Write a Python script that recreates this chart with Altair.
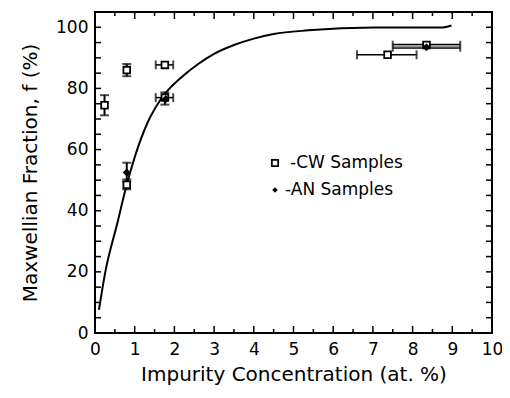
import altair as alt
import pandas as pd

# fitted curve
curve_x = [0.1, 0.26, 0.57, 0.76, 1.0, 1.32, 1.65, 2.2, 2.6, 3.0, 3.5, 4.0, 4.5, 5.37, 7.04, 8.71, 8.98]
curve_y = [7.6, 20.0, 36.3, 46.5, 57.5, 68.7, 76.3, 83.9, 88.0, 91.3, 94.2, 96.3, 97.8, 99.0, 99.9, 99.9, 100.6]

# samples
cw_x = [0.24, 0.8, 0.8, 1.76, 1.76, 7.37, 8.35]
cw_y = [74.5, 86.0, 48.5, 87.7, 77.0, 91.0, 94.2]
an_x = [0.8, 1.78, 8.35]
an_y = [52.5, 76.5, 93.5]

# vertical error bars: x, low, high
yerr_x = [0.24, 0.8, 0.8, 0.8, 1.76]
yerr_lo = [71.2, 84.0, 49.5, 47.0, 74.7]
yerr_hi = [77.8, 88.0, 55.7, 50.2, 78.7]

# horizontal error bars: y, low, high
xerr_y = [87.7, 77.0, 91.0]
xerr_lo = [1.53, 1.53, 6.6]
xerr_hi = [1.97, 1.97, 8.1]
# shaded horizontal bar (overlapping samples)
sh_y = [93.8]
sh_lo = [7.5]
sh_hi = [9.2]

legend_labels = ["-CW Samples", "-AN Samples"]

x_label_values = list(range(0, 11))
y_label_values = [0, 20, 40, 60, 80, 100]
x_ticks_major = list(range(0, 11))
x_ticks_minor = [i + 0.5 for i in range(0, 10)]
y_ticks = list(range(5, 105, 5))

W, H = 397, 321
FONT = "DejaVu Sans"

xs = alt.Scale(domain=[0, 10], nice=False, zero=False)
ys = alt.Scale(domain=[0, 105], nice=False, zero=False)

X_AX = alt.Axis(title="Impurity Concentration (at. %)", values=x_label_values,
                ticks=False, domain=False, grid=False, labelPadding=8,
                labelOverlap=False, labelFlush=False,
                labelFontSize=17, titleFontSize=20, titlePadding=7,
                labelFont=FONT, titleFont=FONT, labelColor="black",
                titleColor="black", titleFontWeight="normal")
Y_AX = alt.Axis(title="Maxwellian Fraction, f (%)", values=y_label_values,
                ticks=False, domain=False, grid=False, labelPadding=7,
                labelOverlap=False, labelFlush=False,
                labelFontSize=17, titleFontSize=20, titlePadding=15,
                labelFont=FONT, titleFont=FONT, labelColor="black",
                titleColor="black", titleFontWeight="normal")


def X(f):
    return alt.X(f, type="quantitative", scale=xs, axis=X_AX, title="Impurity Concentration (at. %)")


def Y(f):
    return alt.Y(f, type="quantitative", scale=ys, axis=Y_AX, title="Maxwellian Fraction, f (%)")


curve_df = pd.DataFrame({"x": curve_x, "y": curve_y})
curve = alt.Chart(curve_df).mark_line(color="black", strokeWidth=2, interpolate="monotone").encode(
    x=X("x"), y=Y("y"))

pts_df = pd.DataFrame({
    "x": cw_x + an_x,
    "y": cw_y + an_y,
    "s": [legend_labels[0]] * len(cw_x) + [legend_labels[1]] * len(an_x),
})

yerr_df = pd.DataFrame({"x": yerr_x, "lo": yerr_lo, "hi": yerr_hi})
xerr_df = pd.DataFrame({"y": xerr_y, "lo": xerr_lo, "hi": xerr_hi})
sh_df = pd.DataFrame({"y": sh_y, "lo": sh_lo, "hi": sh_hi})

yerr_rule = alt.Chart(yerr_df).mark_rule(color="black", strokeWidth=2).encode(
    x=X("x"), y=Y("lo"), y2="hi:Q")
yerr_cap_lo = alt.Chart(yerr_df).mark_tick(color="black", orient="horizontal", size=9, thickness=2).encode(
    x=X("x"), y=Y("lo"))
yerr_cap_hi = alt.Chart(yerr_df).mark_tick(color="black", orient="horizontal", size=9, thickness=2).encode(
    x=X("x"), y=Y("hi"))

xerr_rule = alt.Chart(xerr_df).mark_rule(color="black", strokeWidth=1.5).encode(
    y=Y("y"), x=X("lo"), x2="hi:Q")
xerr_cap_lo = alt.Chart(xerr_df).mark_tick(color="black", orient="vertical", size=9, thickness=2).encode(
    y=Y("y"), x=X("lo"))
xerr_cap_hi = alt.Chart(xerr_df).mark_tick(color="black", orient="vertical", size=9, thickness=2).encode(
    y=Y("y"), x=X("hi"))

sh_outer = alt.Chart(sh_df).mark_rule(color="black", strokeWidth=5).encode(
    y=Y("y"), x=X("lo"), x2="hi:Q")
sh_inner = alt.Chart(sh_df).mark_rule(color="#9a9a9a", strokeWidth=2.5).encode(
    y=Y("y"), x=X("lo"), x2="hi:Q")
sh_cap_lo = alt.Chart(sh_df).mark_tick(color="black", orient="vertical", size=11, thickness=2).encode(
    y=Y("y"), x=X("lo"))
sh_cap_hi = alt.Chart(sh_df).mark_tick(color="black", orient="vertical", size=11, thickness=2).encode(
    y=Y("y"), x=X("hi"))

shape_scale = alt.Scale(domain=legend_labels, range=["square", "diamond"])
fill_scale = alt.Scale(domain=legend_labels, range=["white", "black"])
size_scale = alt.Scale(domain=legend_labels, range=[45, 30])

points = alt.Chart(pts_df).mark_point(filled=False, strokeWidth=1.8, opacity=1).encode(
    x=X("x"),
    y=Y("y"),
    shape=alt.Shape("s:N", scale=shape_scale, legend=None),
    fill=alt.Fill("s:N", scale=fill_scale, legend=None),
    size=alt.Size("s:N", scale=size_scale, legend=None),
    stroke=alt.value("black"),
)

# manual legend
leg_df = pd.DataFrame({"s": legend_labels})
leg_sym_cw = alt.Chart(leg_df).transform_filter(alt.datum.s == legend_labels[0]).mark_point(
    shape="square", filled=False, stroke="black", fill="white", strokeWidth=1.8, size=40, opacity=1
).encode(x=alt.value(180), y=alt.value(151))
leg_sym_an = alt.Chart(leg_df).transform_filter(alt.datum.s == legend_labels[1]).mark_point(
    shape="diamond", filled=True, color="black", size=30, opacity=1
).encode(x=alt.value(180), y=alt.value(178))
leg_txt_cw = alt.Chart(leg_df).transform_filter(alt.datum.s == legend_labels[0]).mark_text(
    align="left", baseline="middle", font=FONT, fontSize=17, color="black"
).encode(x=alt.value(195), y=alt.value(151), text="s:N")
leg_txt_an = alt.Chart(leg_df).transform_filter(alt.datum.s == legend_labels[1]).mark_text(
    align="left", baseline="middle", font=FONT, fontSize=17, color="black"
).encode(x=alt.value(190), y=alt.value(178), text="s:N")

# inward axis ticks
xt_major = pd.DataFrame({"x": x_ticks_major})
xt_minor = pd.DataFrame({"x": x_ticks_minor})
yt = pd.DataFrame({"y": y_ticks})

tb_major = alt.Chart(xt_major).mark_rule(color="black", strokeWidth=1.5).encode(
    x=X("x"), y=alt.value(H), y2=alt.value(H - 7))
tb_minor = alt.Chart(xt_minor).mark_rule(color="black", strokeWidth=1.5).encode(
    x=X("x"), y=alt.value(H), y2=alt.value(H - 4))
tt_major = alt.Chart(xt_major).mark_rule(color="black", strokeWidth=1.5).encode(
    x=X("x"), y=alt.value(0), y2=alt.value(7))
tt_minor = alt.Chart(xt_minor).mark_rule(color="black", strokeWidth=1.5).encode(
    x=X("x"), y=alt.value(0), y2=alt.value(4))
tl = alt.Chart(yt).mark_rule(color="black", strokeWidth=1.5).encode(
    y=Y("y"), x=alt.value(0), x2=alt.value(6))
tr = alt.Chart(yt).mark_rule(color="black", strokeWidth=1.5).encode(
    y=Y("y"), x=alt.value(W), x2=alt.value(W - 6))

chart = alt.layer(
    curve, tb_major, tb_minor, tt_major, tt_minor, tl, tr,
    yerr_rule, yerr_cap_lo, yerr_cap_hi,
    xerr_rule, xerr_cap_lo, xerr_cap_hi,
    sh_outer, sh_inner, sh_cap_lo, sh_cap_hi,
    points, leg_sym_cw, leg_sym_an, leg_txt_cw, leg_txt_an,
).properties(
    width=W, height=H,
    autosize=alt.AutoSizeParams(type="none"),
    padding={"left": 87, "top": 4, "right": 10, "bottom": 56},
    background="white",
).configure_view(stroke="black", strokeWidth=2)

chart.save("out.html", embed_options={"renderer": "svg", "actions": False})
